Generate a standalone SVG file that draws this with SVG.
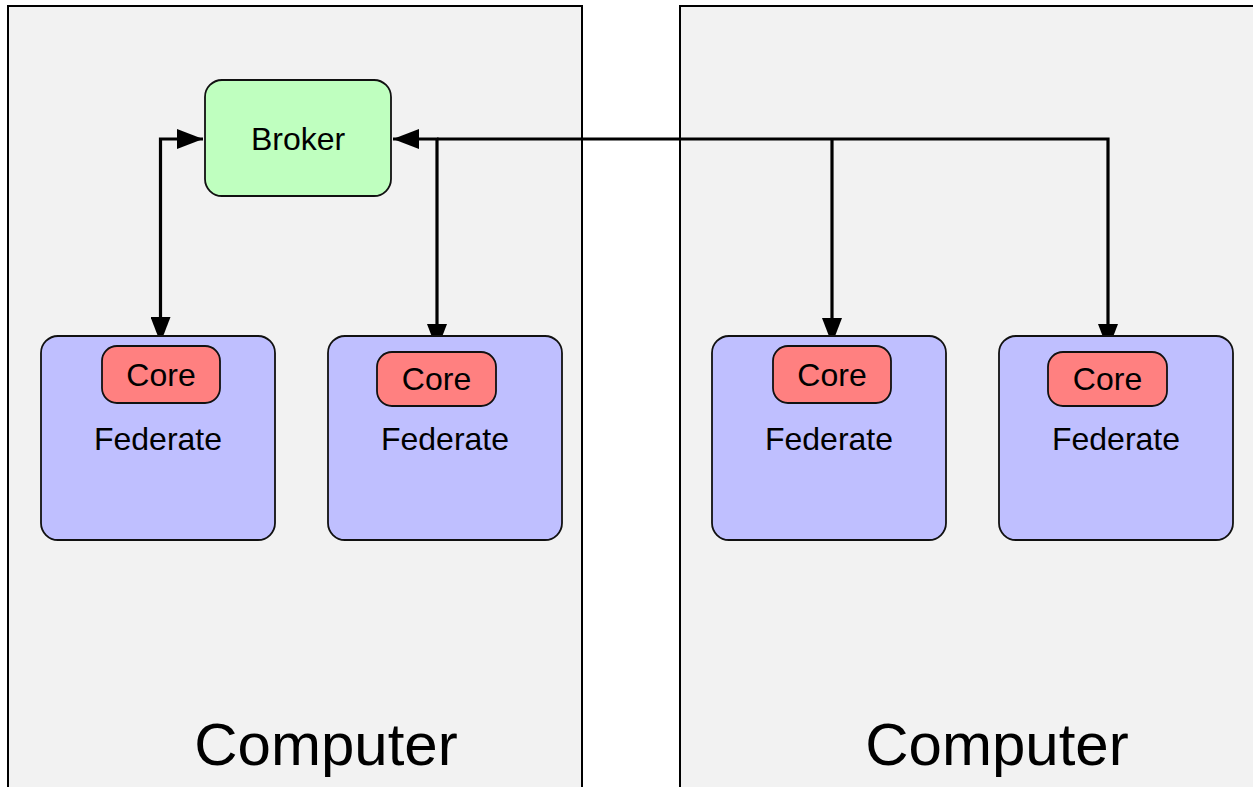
<svg xmlns="http://www.w3.org/2000/svg" width="1253" height="787" viewBox="0 0 1253 787">
  <style>
    text { font-family: "Liberation Sans", Arial, Helvetica, sans-serif; fill: #000; text-anchor: middle; }
    .computer { fill: #f2f2f2; stroke: #000; stroke-width: 2; }
    .broker { fill: #bfffbf; stroke: #111; stroke-width: 1.8; }
    .federate { fill: #bfbfff; stroke: #111; stroke-width: 1.8; }
    .core { fill: #ff8080; stroke: #111; stroke-width: 1.8; }
    .label { font-size: 32px; }
    .big { font-size: 60px; }
    .link { fill: none; stroke: #000; stroke-width: 3.2; }
  </style>
  <defs>
    <marker id="head" viewBox="0 0 26 20" refX="26" refY="10" markerWidth="26" markerHeight="20" markerUnits="userSpaceOnUse" orient="auto-start-reverse">
      <path d="M0,0 L26,10 L0,20 Z" fill="#000"/>
    </marker>
  </defs>
  <rect width="1253" height="787" fill="#fff"/>

  <!-- machines -->
  <g id="computer-left">
    <rect class="computer" x="8" y="6" width="574" height="800"/>
    <text class="big" x="326" y="765">Computer</text>
  </g>
  <g id="computer-right">
    <rect class="computer" x="680" y="6" width="590" height="800"/>
    <text class="big" x="997" y="765">Computer</text>
  </g>

  <!-- links between broker and cores -->
  <g id="connectors">
    <path class="link" d="M160.5,343 V139 H203" marker-start="url(#head)" marker-end="url(#head)"/>
    <path class="link" d="M393,139 H437 V350" marker-start="url(#head)" marker-end="url(#head)"/>
    <path class="link" d="M437,139 H1108 V350" marker-end="url(#head)"/>
    <path class="link" d="M832,139 V344" marker-end="url(#head)"/>
  </g>

  <g id="broker">
    <rect class="broker" x="205" y="80" width="186" height="116" rx="17"/>
    <text class="label" x="298" y="150">Broker</text>
  </g>

  <g id="federate-1">
    <rect class="federate" x="41" y="336" width="234" height="204" rx="17"/>
    <text class="label" x="158" y="450">Federate</text>
  </g>
  <g id="core-1">
    <rect class="core" x="102" y="346" width="118" height="57" rx="15"/>
    <text class="label" x="161" y="386">Core</text>
  </g>

  <g id="federate-2">
    <rect class="federate" x="328" y="336" width="234" height="204" rx="17"/>
    <text class="label" x="445" y="450">Federate</text>
  </g>
  <g id="core-2">
    <rect class="core" x="377" y="352" width="119" height="54" rx="15"/>
    <text class="label" x="436.5" y="390">Core</text>
  </g>

  <g id="federate-3">
    <rect class="federate" x="712" y="336" width="234" height="204" rx="17"/>
    <text class="label" x="829" y="450">Federate</text>
  </g>
  <g id="core-3">
    <rect class="core" x="773" y="346" width="118" height="57" rx="15"/>
    <text class="label" x="832" y="386">Core</text>
  </g>

  <g id="federate-4">
    <rect class="federate" x="999" y="336" width="234" height="204" rx="17"/>
    <text class="label" x="1116" y="450">Federate</text>
  </g>
  <g id="core-4">
    <rect class="core" x="1048" y="352" width="119" height="54" rx="15"/>
    <text class="label" x="1107.5" y="390">Core</text>
  </g>
</svg>
